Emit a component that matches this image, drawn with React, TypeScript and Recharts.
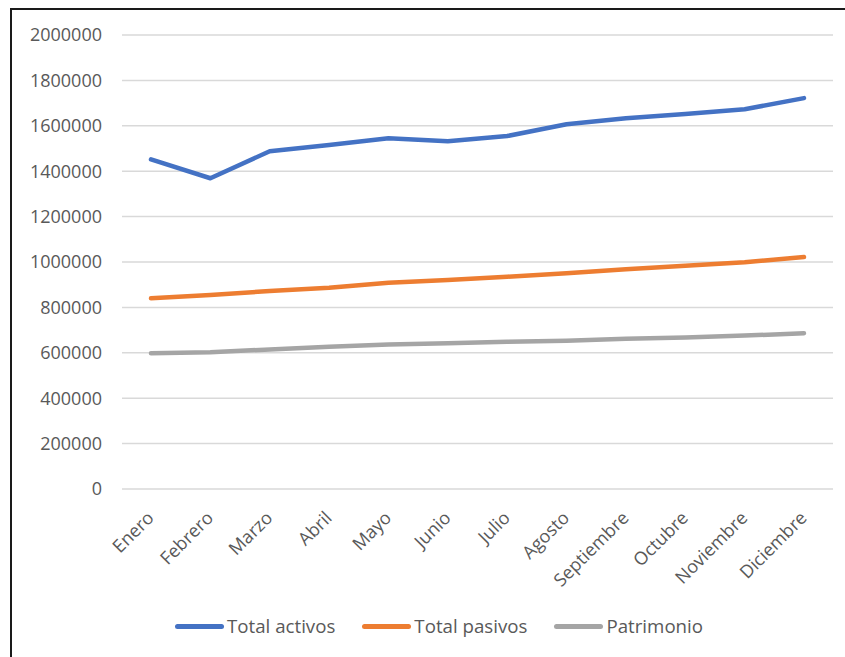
import React from 'react';
import { LineChart, Line, XAxis, YAxis, CartesianGrid } from 'recharts';

// Monthly balance figures
const MONTHS = ['Enero', 'Febrero', 'Marzo', 'Abril', 'Mayo', 'Junio', 'Julio', 'Agosto', 'Septiembre', 'Octubre', 'Noviembre', 'Diciembre'];
const TOTAL_ACTIVOS = [1452000, 1369000, 1488000, 1515000, 1545000, 1532000, 1555000, 1607000, 1633000, 1652000, 1673000, 1722000];
const TOTAL_PASIVOS = [840000, 855000, 872000, 887000, 909000, 921000, 935000, 950000, 968000, 984000, 999000, 1022000];
const PATRIMONIO = [598000, 602000, 615000, 627000, 637000, 642000, 649000, 653000, 662000, 667000, 676000, 686000];
const Y_TICKS = [0, 200000, 400000, 600000, 800000, 1000000, 1200000, 1400000, 1600000, 1800000, 2000000];

const SERIES = [
  { key: 'activos', name: 'Total activos', color: '#4472C4' },
  { key: 'pasivos', name: 'Total pasivos', color: '#ED7D31' },
  { key: 'patrimonio', name: 'Patrimonio', color: '#A5A5A5' },
];

const data = MONTHS.map((month, i) => ({
  month,
  activos: TOTAL_ACTIVOS[i],
  pasivos: TOTAL_PASIVOS[i],
  patrimonio: PATRIMONIO[i],
}));

const FONT = '"Open Sans", "Noto Sans", sans-serif';
const TEXT_COLOR = '#595959';

const MonthTick = (props: any) => {
  const { x, y, payload } = props;
  const tx = x + 4;
  return (
    <text
      x={tx}
      y={y}
      textAnchor="end"
      fill={TEXT_COLOR}
      fontSize={18}
      fontFamily={FONT}
      transform={`rotate(-45, ${tx}, ${y})`}
    >
      {payload.value}
    </text>
  );
};

const ValueTick = (props: any) => {
  const { x, y, payload } = props;
  return (
    <text x={x} y={y} dy="0.35em" textAnchor="end" fill={TEXT_COLOR} fontSize={18} fontFamily={FONT}>
      {payload.value}
    </text>
  );
};

export default function App() {
  return (
    <div style={{ position: 'fixed', left: 0, top: 0, width: 845, height: 657, overflow: 'hidden', background: '#fff' }}>
      <div
        style={{
          position: 'absolute', left: 10, top: 8, width: 850, height: 680,
          border: '2px solid #1a1a1a', boxSizing: 'border-box',
        }}
      />
      <div style={{ position: 'absolute', left: 0, top: 0 }}>
        <LineChart width={845} height={657} data={data} margin={{ top: 35, right: 12, left: 22, bottom: 68 }}>
          <CartesianGrid vertical={false} stroke="#d9d9d9" strokeWidth={1.5} />
          <XAxis
            dataKey="month"
            axisLine={false}
            tickLine={false}
            tickSize={0}
            tickMargin={30}
            height={100}
            interval={0}
            padding={{ left: 29, right: 29 }}
            tick={<MonthTick />}
          />
          <YAxis
            domain={[0, 2000000]}
            ticks={Y_TICKS}
            axisLine={false}
            tickLine={false}
            tickSize={0}
            tickMargin={20}
            width={100}
            interval={0}
            tick={<ValueTick />}
          />
          {SERIES.map((s) => (
            <Line
              key={s.key}
              dataKey={s.key}
              name={s.name}
              stroke={s.color}
              strokeWidth={4.5}
              strokeLinecap="round"
              strokeLinejoin="round"
              dot={false}
              activeDot={false}
              isAnimationActive={false}
            />
          ))}
        </LineChart>
      </div>
      <div
        style={{
          position: 'absolute', left: 175, top: 613, display: 'flex', alignItems: 'center',
          gap: 27, fontFamily: FONT, fontSize: 18.7, color: TEXT_COLOR, lineHeight: '26px',
        }}
      >
        {SERIES.map((s) => (
          <div key={s.key} style={{ display: 'flex', alignItems: 'center' }}>
            <span style={{ display: 'inline-block', width: 49, height: 5, borderRadius: 3, background: s.color, marginRight: 3 }} />
            <span>{s.name}</span>
          </div>
        ))}
      </div>
    </div>
  );
}
